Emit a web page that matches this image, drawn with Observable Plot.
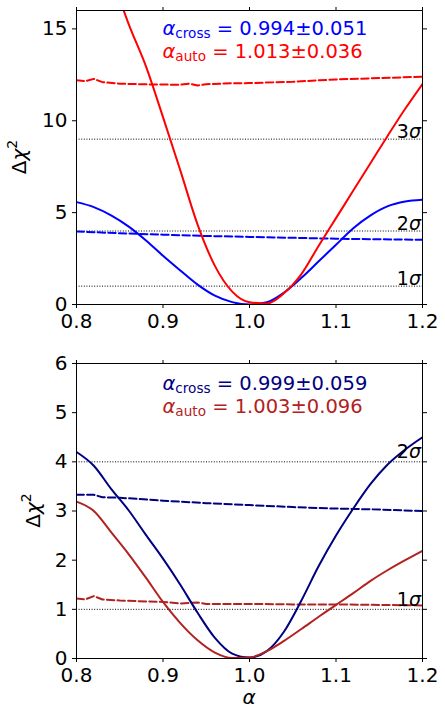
<!DOCTYPE html>
<html><head><meta charset="utf-8">
<script src="https://cdn.jsdelivr.net/npm/d3@7"></script>
<script src="https://cdn.jsdelivr.net/npm/@observablehq/plot@0.6"></script>
<style>
body{margin:0;background:#fff;}
#chart{width:445px;}
#chart svg{display:block;}
</style></head><body><div id="chart"></div>
<script>
// ---- tick values ----
const xTicks = [0.8, 0.9, 1.0, 1.1, 1.2];
const topYTicks = [0, 5, 10, 15];
const botYTicks = [0, 1, 2, 3, 4, 5, 6];

// ---- top panel ----
const alphaGrid = [0.80,0.82,0.84,0.86,0.88,0.90,0.92,0.94,0.96,0.98,1.00,1.02,1.04,1.06,1.08,1.10,1.12,1.14,1.16,1.18,1.20];
const crossTopSolid = [5.57,5.30,4.85,4.25,3.50,2.65,1.85,1.08,0.48,0.13,0.00,0.12,0.65,1.45,2.35,3.25,4.15,4.85,5.35,5.60,5.70];
const alphaAutoTop = [0.85,0.86,0.88,0.90,0.92,0.94,0.96,0.98,1.00,1.02,1.04,1.06,1.08,1.10,1.12,1.14,1.16,1.18,1.20];
const autoTopSolid = [16.6,15.3,13.0,10.2,7.3,4.35,2.1,0.7,0.12,0.05,0.62,1.65,3.2,4.7,6.2,7.7,9.2,10.65,12.0];
const alphaCrossTopDash = [0.80,0.85,0.90,0.95,1.00,1.05,1.10,1.15,1.20];
const crossTopDashed = [3.97,3.88,3.80,3.73,3.68,3.63,3.58,3.55,3.52];
const alphaAutoTopDash = [0.80,0.81,0.82,0.83,0.85,0.88,0.90,0.92,0.93,0.94,0.95,0.98,1.00,1.05,1.10,1.15,1.20];
const autoTopDashed = [12.2,12.15,12.28,12.1,12.02,11.98,11.97,11.96,12.02,11.92,11.99,12.04,12.05,12.12,12.25,12.32,12.4];
const topLevels = [1, 4, 9];
const topLevelLabels = ["1", "2", "3"];
const topCross = "0.994\u00b10.051";
const topAuto = "1.013\u00b10.036";

// ---- bottom panel ----
const crossBotSolid = [4.2,3.92,3.45,3.02,2.52,2.03,1.50,0.93,0.42,0.10,0.02,0.15,0.55,1.18,1.88,2.50,3.05,3.55,3.95,4.25,4.50];
const autoBotSolid = [3.19,3.0,2.57,2.13,1.65,1.15,0.72,0.37,0.12,0.01,0.02,0.15,0.36,0.60,0.85,1.09,1.33,1.58,1.80,2.0,2.19];
const alphaCrossBotDash = [0.80,0.82,0.83,0.85,0.90,0.95,1.00,1.05,1.08,1.10,1.15,1.20];
const crossBotDashed = [3.33,3.33,3.28,3.27,3.21,3.16,3.12,3.08,3.06,3.05,3.03,3.00];
const alphaAutoBotDash = [0.80,0.81,0.82,0.83,0.85,0.90,0.92,0.94,0.95,1.00,1.05,1.10,1.15,1.20];
const autoBotDashed = [1.22,1.20,1.27,1.20,1.18,1.15,1.12,1.14,1.11,1.11,1.10,1.10,1.09,1.08];
const botLevels = [1, 4];
const botLevelLabels = ["1", "2"];
const botCross = "0.999\u00b10.059";
const botAuto = "1.003\u00b10.096";

const FONT = "DejaVu Sans";
const zip = (xs, ys) => xs.map((x, i) => ({x, y: ys[i]}));

function plotScale(svg, name) {
  const s = svg.scale(name);
  return d3.scaleLinear(s.domain, s.range);
}

function panel(cfg) {
  const marks = [
    Plot.ruleY(cfg.levels, {stroke: "black", strokeWidth: 1, strokeDasharray: "1,1.6"}),
    ...cfg.series.map(s => Plot.line(zip(s.x, s.y), {
      x: "x", y: "y", stroke: s.color, strokeWidth: 2,
      strokeDasharray: s.dashed ? "7.4,3.2" : null, clip: true,
      curve: s.dashed ? "linear" : "monotone-x"
    })),
    Plot.frame({stroke: "black", strokeWidth: 1}),
    Plot.axisX({ticks: xTicks, tickFormat: d => d.toFixed(1), tickSize: 4, tickPadding: 5, label: null}),
    Plot.axisX({anchor: "top", ticks: xTicks, tickFormat: () => "", tickSize: 4, label: null}),
    Plot.axisY({ticks: cfg.yTicks, tickFormat: d => String(d), tickSize: 4, tickPadding: 5, label: null}),
    Plot.axisY({anchor: "right", ticks: cfg.yTicks, tickFormat: () => "", tickSize: 4, label: null})
  ];
  const svg = Plot.plot({
    width: 445, height: cfg.height,
    marginLeft: 76, marginRight: 23, marginTop: cfg.marginTop, marginBottom: cfg.marginBottom,
    x: {domain: [0.8, 1.2]},
    y: {domain: cfg.yDomain},
    style: {fontFamily: FONT, fontSize: "20px", color: "black", background: "white", overflow: "visible"},
    marks
  });
  const xs = plotScale(svg, "x"), ys = plotScale(svg, "y");
  const g = d3.select(svg).append("g").attr("font-family", FONT).attr("text-anchor", "start");

  cfg.levels.forEach((lv, i) => {
    const t = g.append("text").attr("x", xs(1.2) - 1).attr("y", ys(lv) + cfg.sigmaDy)
      .attr("text-anchor", "end").attr("font-size", 19).attr("fill", "black");
    t.append("tspan").text(cfg.levelLabels[i]);
    t.append("tspan").attr("font-style", "italic").text("\u03c3");
  });

  const ann = (yv, sub, val, color) => {
    const t = g.append("text").attr("x", xs(0.9)).attr("y", ys(yv))
      .attr("text-anchor", "start").attr("font-size", 19.5).attr("fill", color);
    t.append("tspan").attr("font-style", "italic").text("\u03b1");
    t.append("tspan").attr("font-size", 13.6).attr("dy", 3).text(sub);
    t.append("tspan").attr("dy", -3).text(" = " + val);
  };
  ann(cfg.line1, "cross", cfg.crossText, cfg.crossColor);
  ann(cfg.line2, "auto", cfg.autoText, cfg.autoColor);

  const cy = (ys(cfg.yDomain[0]) + ys(cfg.yDomain[1])) / 2;
  const yl = g.append("text").attr("transform", `translate(${cfg.ylabelX},${cy}) rotate(-90)`)
    .attr("text-anchor", "middle").attr("font-size", 20).attr("fill", "black");
  yl.append("tspan").text("\u0394");
  yl.append("tspan").attr("font-style", "italic").text("\u03c7");
  yl.append("tspan").attr("font-size", 14).attr("dy", -9).text("2");

  if (cfg.xlabel) {
    g.append("text").attr("x", (xs(0.8) + xs(1.2)) / 2).attr("y", cfg.height - 12)
      .attr("text-anchor", "middle").attr("font-size", 20).attr("font-style", "italic")
      .attr("fill", "black").text("\u03b1");
  }
  return svg;
}

const topPanel = panel({
  height: 340, marginTop: 10, marginBottom: 36, yDomain: [0, 16], yTicks: topYTicks,
  levels: topLevels, levelLabels: topLevelLabels, sigmaDy: -1,
  series: [
    {x: alphaCrossTopDash, y: crossTopDashed, color: "#0000ff", dashed: true},
    {x: alphaAutoTopDash, y: autoTopDashed, color: "#ff0000", dashed: true},
    {x: alphaGrid, y: crossTopSolid, color: "#0000ff"},
    {x: alphaAutoTop, y: autoTopSolid, color: "#ff0000"}
  ],
  line1: 14.64, line2: 13.37, crossText: topCross, autoText: topAuto,
  crossColor: "#0000ff", autoColor: "#ff0000", ylabelX: 26
});
const botPanel = panel({
  height: 376, marginTop: 23, marginBottom: 58, yDomain: [0, 6], yTicks: botYTicks,
  levels: botLevels, levelLabels: botLevelLabels, sigmaDy: -3,
  series: [
    {x: alphaCrossBotDash, y: crossBotDashed, color: "#000080", dashed: true},
    {x: alphaAutoBotDash, y: autoBotDashed, color: "#b22222", dashed: true},
    {x: alphaGrid, y: crossBotSolid, color: "#000080"},
    {x: alphaGrid, y: autoBotSolid, color: "#b22222"}
  ],
  line1: 5.46, line2: 4.98, crossText: botCross, autoText: botAuto,
  crossColor: "#000080", autoColor: "#b22222", ylabelX: 40, xlabel: true
});
document.getElementById("chart").append(topPanel, botPanel);
</script>
</body></html>
